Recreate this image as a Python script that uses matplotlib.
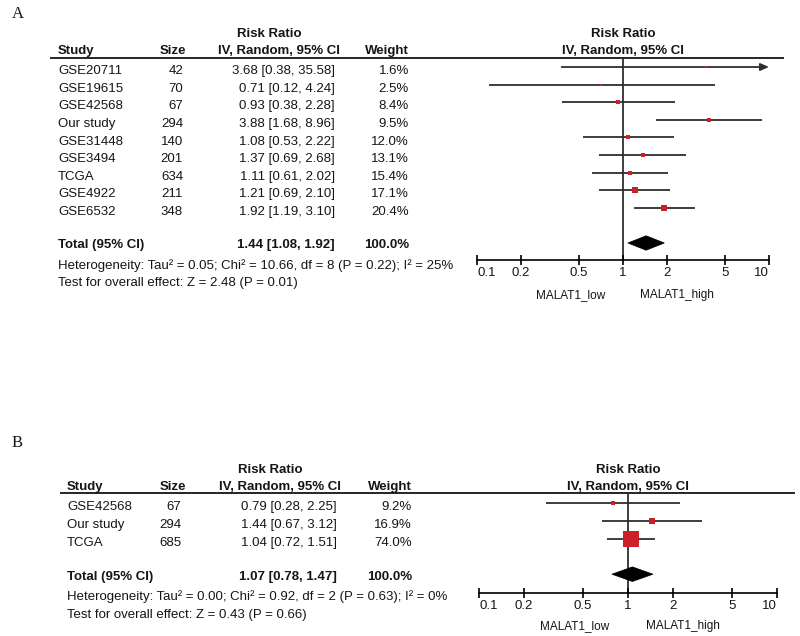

# Forest plots (risk ratio, IV random) for MALAT1 expression, panels A and B.
import numpy as np
import matplotlib.pyplot as plt
from matplotlib.patches import Polygon
from matplotlib.ticker import NullLocator

plt.rcParams['font.family'] = ['Liberation Sans', 'DejaVu Sans']

# figure size in pixels
W, H = 800, 636

# panel A data
studies_a = ['GSE20711', 'GSE19615', 'GSE42568', 'Our study', 'GSE31448',
             'GSE3494', 'TCGA', 'GSE4922', 'GSE6532']
size_a    = [42, 70, 67, 294, 140, 201, 634, 211, 348]
rr_a      = [3.68, 0.71, 0.93, 3.88, 1.08, 1.37, 1.11, 1.21, 1.92]
lo_a      = [0.38, 0.12, 0.38, 1.68, 0.53, 0.69, 0.61, 0.69, 1.19]
hi_a      = [35.58, 4.24, 2.28, 8.96, 2.22, 2.68, 2.02, 2.10, 3.10]
weight_a  = [1.6, 2.5, 8.4, 9.5, 12.0, 13.1, 15.4, 17.1, 20.4]
total_a   = [1.44, 1.08, 1.92]
total_weight_a = 100.0
het_a     = 'Heterogeneity: Tau² = 0.05; Chi² = 10.66, df = 8 (P = 0.22); I² = 25%'
effect_a  = 'Test for overall effect: Z = 2.48 (P = 0.01)'

# panel B data
studies_b = ['GSE42568', 'Our study', 'TCGA']
size_b    = [67, 294, 685]
rr_b      = [0.79, 1.44, 1.04]
lo_b      = [0.28, 0.67, 0.72]
hi_b      = [2.25, 3.12, 1.51]
weight_b  = [9.2, 16.9, 74.0]
total_b   = [1.07, 0.78, 1.47]
total_weight_b = 100.0
het_b     = 'Heterogeneity: Tau² = 0.00; Chi² = 0.92, df = 2 (P = 0.63); I² = 0%'
effect_b  = 'Test for overall effect: Z = 0.43 (P = 0.66)'

# axis ticks
ticks       = [0.1, 0.2, 0.5, 1, 2, 5, 10]
tick_labels = ['0.1', '0.2', '0.5', '1', '2', '5', '10']
low_label   = 'MALAT1_low'
high_label  = 'MALAT1_high'

# layouts in pixels
layout_a = dict(x_lo=477, x_hi=769, y_top=58, y_axis=260, y_row0=67, step=17.6,
                line_x0=50, line_x1=784, study=58, size=183, size_head=186,
                ci=335, ci_head=279, weight=409, letter_y=14)
layout_b = dict(x_lo=479, x_hi=777, y_top=492.5, y_axis=593, y_row0=503, step=17.8,
                line_x0=60, line_x1=795, study=67, size=181, size_head=186,
                ci=337, ci_head=280, weight=412, letter_y=443)

txt_color  = '#151515'
line_color = '#2e2e2e'
box_color  = '#cc1f26'
fs         = 9.5


def draw_panel(fig, letter, lay, studies, sizes, rr, lo, hi, weight, total,
               total_weight, het, effect):
    """
    Draws the table on the left and the forest plot on the right.
    """
    n = len(studies)
    total_row = n + 1
    y_min = (lay['y_top'] - lay['y_row0']) / lay['step']
    y_max = (lay['y_axis'] - lay['y_row0']) / lay['step']
    bottom = 1 - lay['y_axis'] / H
    height = (lay['y_axis'] - lay['y_top']) / H

    # table axes, x in pixels, y in rows
    tab = fig.add_axes([0, bottom, 1, height])
    tab.set_xlim(0, W)
    tab.set_ylim(y_max, y_min)
    tab.axis('off')

    # forest axes, log scale
    ax = fig.add_axes([lay['x_lo'] / W, bottom, (lay['x_hi'] - lay['x_lo']) / W, height])
    ax.set_xscale('log')
    ax.set_xlim(0.1, 10)
    ax.set_ylim(y_max, y_min)
    ax.patch.set_visible(False)

    fig.text(12 / W, 1 - lay['letter_y'] / H, letter, family='Liberation Serif',
             fontsize=12, ha='left', va='center', color=txt_color)

    # headers
    kw = dict(fontsize=fs, fontweight='bold', color=txt_color, va='center_baseline')
    tab.text(lay['ci_head'] - 10, -1.95, 'Risk Ratio', ha='center', **kw)
    tab.text(lay['study'], -0.99, 'Study', ha='left', **kw)
    tab.text(lay['size_head'], -0.99, 'Size', ha='right', **kw)
    tab.text(lay['ci_head'], -0.99, 'IV, Random, 95% CI', ha='center', **kw)
    tab.text(lay['weight'], -0.99, 'Weight', ha='right', **kw)
    ax.text(1, -1.95, 'Risk Ratio', ha='center', **kw)
    ax.text(1, -0.99, 'IV, Random, 95% CI', ha='center', **kw)
    tab.plot([lay['line_x0'], lay['line_x1']], [y_min, y_min], color='black',
             lw=1.2, clip_on=False, solid_capstyle='butt')

    # study rows
    kw = dict(fontsize=fs, color=txt_color, va='center_baseline')
    for i in range(n):
        y = i + 0.15
        tab.text(lay['study'], y, studies[i], ha='left', **kw)
        tab.text(lay['size'], y, str(sizes[i]), ha='right', **kw)
        tab.text(lay['ci'], y, '%.2f [%.2f, %.2f]' % (rr[i], lo[i], hi[i]), ha='right', **kw)
        tab.text(lay['weight'], y, '%.1f%%' % weight[i], ha='right', **kw)

    # total rows
    y = total_row + 0.05
    kwb = dict(kw, fontweight='bold')
    tab.text(lay['study'], y, 'Total (95% CI)', ha='left', **kwb)
    tab.text(lay['ci'], y, '%.2f [%.2f, %.2f]' % tuple(total), ha='right', **kwb)
    tab.text(lay['weight'], y, '%.1f%%' % total_weight, ha='right', **kwb)
    tab.text(lay['study'], total_row + 1.2, het, ha='left', **kw)
    tab.text(lay['study'], total_row + 2.2, effect, ha='left', **kw)

    # forest plot
    ax.axvline(1, color=line_color, lw=1.3, zorder=1)
    for i in range(n):
        if hi[i] > 10:
            ax.annotate('', xy=(10, i), xytext=(lo[i], i),
                        arrowprops=dict(arrowstyle='-|>,head_length=0.5,head_width=0.22',
                                        color=line_color, lw=1.3, shrinkA=0, shrinkB=0))
        else:
            ax.plot([lo[i], hi[i]], [i, i], color=line_color, lw=1.3,
                    solid_capstyle='butt', zorder=2)
        side = max(2.0, 0.62 * weight[i] ** 0.75)  # box side in pixels
        ax.plot(rr[i], i, 's', color=box_color, markersize=side * 0.72,
                markeredgewidth=0, zorder=3)

    half = 0.41
    est, tlo, thi = total
    ax.add_patch(Polygon([(tlo, total_row), (est, total_row - half),
                          (thi, total_row), (est, total_row + half)],
                         closed=True, facecolor='black', edgecolor='black', lw=0.5))

    # axis
    for s in ['top', 'left', 'right']:
        ax.spines[s].set_visible(False)
    ax.spines['bottom'].set_linewidth(1.2)
    ax.set_yticks([])
    ax.set_xticks(ticks)
    ax.set_xticklabels(tick_labels)
    ax.xaxis.set_minor_locator(NullLocator())
    ax.tick_params(axis='x', direction='inout', length=7, width=1.2, pad=1.5,
                   labelsize=fs, labelcolor=txt_color)
    # end labels sit inside the axis ends
    labels = ax.get_xticklabels()
    labels[0].set_horizontalalignment('left')
    labels[-1].set_horizontalalignment('right')

    ax.text(0.44, total_row + 2.85, low_label, ha='center', va='center_baseline',
            fontsize=8.5, color=txt_color, clip_on=False)
    ax.text(2.35, total_row + 2.85, high_label, ha='center', va='center_baseline',
            fontsize=8.5, color=txt_color, clip_on=False)


def main():
    fig = plt.figure(figsize=(W / 100, H / 100), dpi=100)
    fig.patch.set_facecolor('white')
    draw_panel(fig, 'A', layout_a, studies_a, size_a, rr_a, lo_a, hi_a,
               weight_a, total_a, total_weight_a, het_a, effect_a)
    draw_panel(fig, 'B', layout_b, studies_b, size_b, rr_b, lo_b, hi_b,
               weight_b, total_b, total_weight_b, het_b, effect_b)
    fig.savefig('out.png', dpi=100)


if __name__ == "__main__":
    main()
